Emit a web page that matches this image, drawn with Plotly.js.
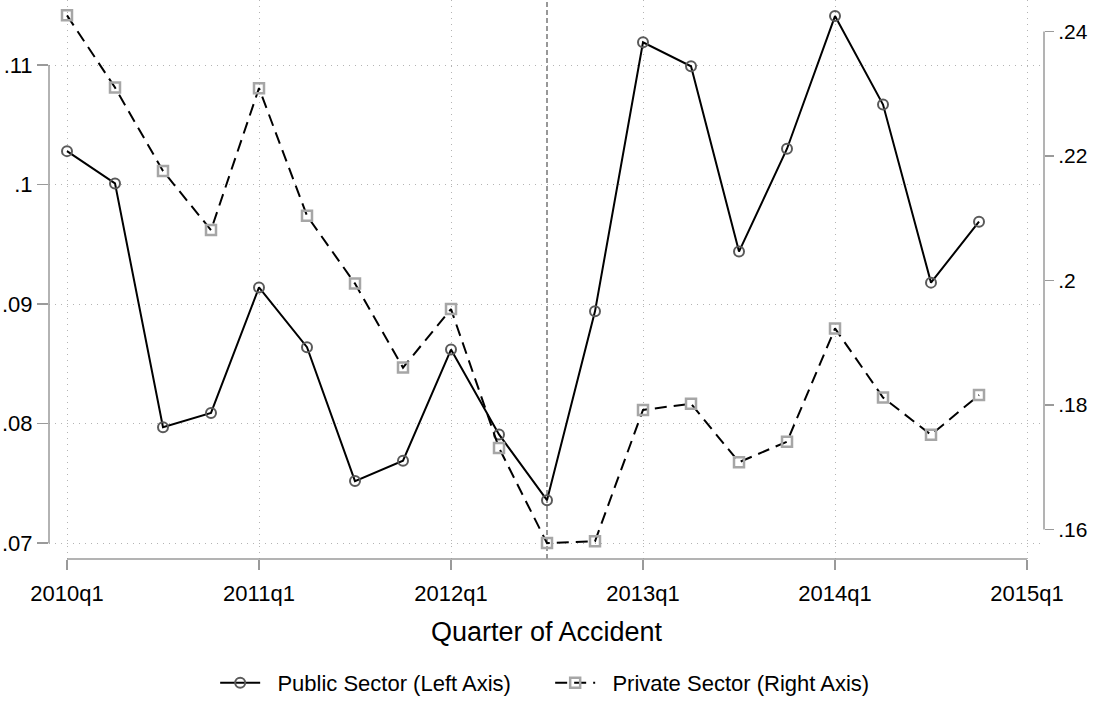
<!DOCTYPE html>
<html>
<head>
<meta charset="utf-8">
<script src="https://cdn.plot.ly/plotly-3.0.1.min.js"></script>
<style>html,body{margin:0;padding:0;background:#fff;}#chart{width:1093px;height:704px;}</style>
</head>
<body>
<div id="chart"></div>
<script>
// Quarters of accident
const quarters = ['2010q1','2010q2','2010q3','2010q4','2011q1','2011q2','2011q3','2011q4',
  '2012q1','2012q2','2012q3','2012q4','2013q1','2013q2','2013q3','2013q4',
  '2014q1','2014q2','2014q3','2014q4'];
// Public sector (left axis)
const publicSector = [0.1028,0.1001,0.0797,0.0809,0.0914,0.0864,0.0752,0.0769,
  0.0862,0.0791,0.0736,0.0894,0.1119,0.1099,0.0944,0.1030,
  0.1141,0.1067,0.0918,0.0969];
// Private sector (right axis)
const privateSector = [0.2426,0.2310,0.2176,0.2081,0.2309,0.2104,0.1995,0.1860,
  0.1954,0.1731,0.1578,0.1581,0.1792,0.1802,0.1708,0.1741,
  0.1923,0.1812,0.1752,0.1816];
// Axis tick labels
const xTickLabels = ['2010q1','2011q1','2012q1','2013q1','2014q1','2015q1'];
const leftTickVals = [0.07,0.08,0.09,0.10,0.11];
const leftTickText = ['.07','.08','.09','.1','.11'];
const rightTickVals = [0.16,0.18,0.20,0.22,0.24];
const rightTickText = ['.16','.18','.2','.22','.24'];
const eventQuarter = '2012q3';
const seriesNames = ['Public Sector (Left Axis)', 'Private Sector (Right Axis)'];

function qIndex(q){ const y = parseInt(q.slice(0,4)); const n = parseInt(q.slice(5)); return (y-2010)*4 + (n-1); }
const xs = quarters.map(qIndex);
const xTickVals = xTickLabels.map(qIndex);

const FONT = 'Liberation Sans, Arial, Helvetica, sans-serif';
const AXC = '#9a9a9a';
const GRIDC = '#b4b4b4';
const PAD = '\u00a0\u00a0';

const traces = [
  {x: xs, y: publicSector, name: PAD + seriesNames[0], type: 'scatter', mode: 'lines+markers',
   line: {color: '#000', width: 2},
   marker: {symbol: 'circle-open', size: 10, color: '#5a5a5a', line: {width: 2, color: '#5a5a5a'}},
   yaxis: 'y'},
  {x: xs, y: privateSector, name: PAD + seriesNames[1], type: 'scatter', mode: 'lines+markers',
   line: {color: '#000', width: 2, dash: '12px,7px'},
   marker: {symbol: 'square-open', size: 10, color: '#a6a6a6', line: {width: 2.5, color: '#a6a6a6'}},
   yaxis: 'y2'}
];

const layout = {
  width: 1093, height: 704,
  margin: {l: 49, r: 49, t: 0, b: 137, pad: 0},
  paper_bgcolor: '#fff', plot_bgcolor: '#fff',
  font: {family: FONT, color: '#000', size: 22},
  showlegend: true,
  legend: {orientation: 'h', x: 0.167, xanchor: 'left', y: -0.222, yanchor: 'middle',
           entrywidth: 280, entrywidthmode: 'pixels', itemwidth: 40,
           font: {family: FONT, size: 22, color: '#000'}, bgcolor: 'rgba(0,0,0,0)'},
  xaxis: {range: [-0.375, 20.354], tickmode: 'array', tickvals: xTickVals, ticktext: xTickLabels,
          ticks: 'outside', ticklen: 10, tickwidth: 1.5, tickcolor: AXC, ticklabelstandoff: 5,
          showgrid: true, gridcolor: GRIDC, griddash: '1px,5px', gridwidth: 1,
          zeroline: false, showline: false, automargin: false,
          tickfont: {family: FONT, size: 22, color: '#000'},
          title: {text: 'Quarter of Accident', font: {family: FONT, size: 27, color: '#000'}, standoff: 16}},
  yaxis: {range: [0.068680, 0.115443], tickmode: 'array', tickvals: leftTickVals, ticktext: leftTickText,
          ticks: 'outside', ticklen: 11, tickwidth: 1.5, tickcolor: AXC,
          showgrid: true, gridcolor: GRIDC, griddash: '1px,5px', gridwidth: 1,
          zeroline: false, showline: false, automargin: false,
          tickfont: {family: FONT, size: 22, color: '#000'}},
  yaxis2: {range: [0.155248, 0.245069], overlaying: 'y', side: 'right', tickmode: 'array',
          tickvals: rightTickVals, ticktext: rightTickText,
          ticks: 'outside', ticklen: 9, tickwidth: 1.5, tickcolor: AXC, ticklabelstandoff: 0,
          showgrid: false, zeroline: false, showline: false, automargin: false,
          tickfont: {family: FONT, size: 21, color: '#000'}},
  shapes: [
    {type: 'line', xref: 'paper', yref: 'y', x0: 0, x1: 0, y0: leftTickVals[0], y1: leftTickVals[leftTickVals.length-1],
     line: {color: AXC, width: 1.5}},
    {type: 'line', xref: 'paper', yref: 'y2', x0: 1, x1: 1, y0: rightTickVals[0], y1: rightTickVals[rightTickVals.length-1],
     line: {color: AXC, width: 1.5}},
    {type: 'line', xref: 'x', yref: 'paper', x0: xTickVals[0], x1: xTickVals[xTickVals.length-1], y0: 0, y1: 0,
     line: {color: AXC, width: 1.5}},
    {type: 'line', xref: 'x', yref: 'paper', x0: qIndex(eventQuarter), x1: qIndex(eventQuarter), y0: 0, y1: 1,
     layer: 'below', line: {color: '#777', width: 1.5, dash: '5px,3px'}}
  ]
};

Plotly.newPlot('chart', traces, layout, {displayModeBar: false, staticPlot: true});
</script>
</body>
</html>
